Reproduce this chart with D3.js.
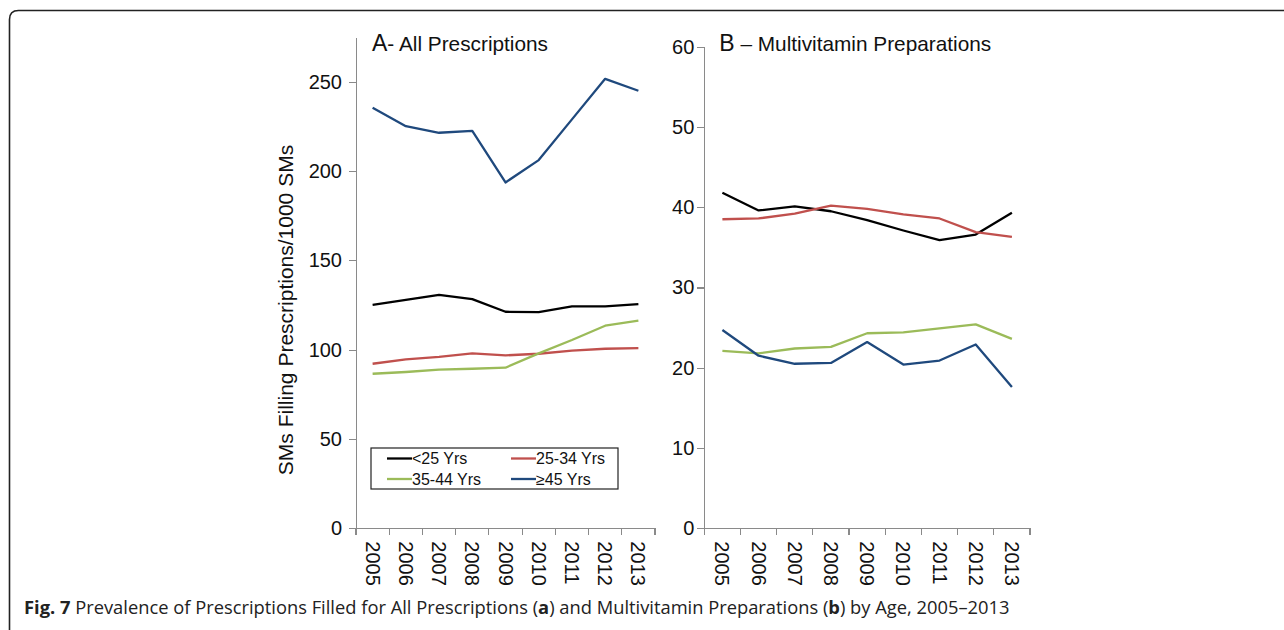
<!DOCTYPE html>
<html lang="en">
<head>
  <meta charset="UTF-8">
  <title>Fig. 7</title>
  <style type="text/css">
    body{
      margin: 0;
      background: #fff;
      font-family: "Liberation Sans", Arial, sans-serif;
    }
    .axis path,
    .axis line{
      fill: none;
      stroke: #8a8a8a;
      stroke-width: 1.2px;
      shape-rendering: crispEdges;
    }
    .axis text{
      font-family: "Liberation Sans", Arial, sans-serif;
      fill: #111;
    }
    .series{
      fill: none;
      stroke-width: 2.3px;
      stroke-linejoin: round;
    }
    .legend text{
      font-size: 16px;
      fill: #111;
    }
    .caption{
      font-family: "Open Sans", sans-serif;
      fill: #222;
    }
  </style>
  <script type="text/javascript" src="https://cdn.jsdelivr.net/npm/d3@7"></script>
</head>
<body>
<script type="text/javascript">
  var years = ['2005', '2006', '2007', '2008', '2009', '2010', '2011', '2012', '2013'];
  var seriesNames = ['<25 Yrs', '25-34 Yrs', '35-44 Yrs', '\u226545 Yrs'];
  var seriesColors = ['#000000', '#c0504d', '#9bbb59', '#1f497d'];

  // A - all prescriptions, per 1000 SMs
  var allUnder25 = [125.1, 127.8, 130.6, 128.3, 121.2, 121.0, 124.2, 124.2, 125.5];
  var all25to34  = [92.1, 94.6, 95.9, 97.9, 96.8, 97.7, 99.4, 100.5, 100.9];
  var all35to44  = [86.5, 87.5, 88.8, 89.3, 89.9, 97.9, 105.4, 113.4, 116.2];
  var all45plus  = [235.4, 225.1, 221.4, 222.5, 193.6, 206.1, 228.9, 251.6, 244.9];
  var allTicks = [0, 50, 100, 150, 200, 250];

  // B - multivitamin preparations
  var vitUnder25 = [41.8, 39.6, 40.1, 39.5, 38.4, 37.1, 35.9, 36.6, 39.3];
  var vit25to34  = [38.5, 38.6, 39.2, 40.2, 39.8, 39.1, 38.6, 36.9, 36.3];
  var vit35to44  = [22.1, 21.8, 22.4, 22.6, 24.3, 24.4, 24.9, 25.4, 23.6];
  var vit45plus  = [24.7, 21.5, 20.5, 20.6, 23.2, 20.4, 20.9, 22.9, 17.6];
  var vitTicks = [0, 10, 20, 30, 40, 50, 60];

  var W = 1284, H = 630;

  var svg = d3.select('body')
    .append('svg')
    .attr('width', W)
    .attr('height', H);

  // frame (rounded top-left corner, open to the right and bottom)
  svg.append('path')
    .attr('d', 'M9.5,' + H + ' L9.5,19.5 Q9.5,10.5 18.5,10.5 L' + W + ',10.5')
    .attr('fill', 'none')
    .attr('stroke', '#222')
    .attr('stroke-width', 1.6);

  function drawPanel(p){
    var x = d3.scaleBand()
      .domain(years)
      .range([p.left, p.right]);

    var y = d3.scaleLinear()
      .domain([0, p.max])
      .range([528.3, p.top]);

    var g = svg.append('g');

    // y axis
    var yAxis = d3.axisLeft(y)
      .tickValues(p.ticks)
      .tickSize(7)
      .tickSizeOuter(0)
      .tickPadding(p.pad);

    g.append('g')
      .attr('class', 'y axis')
      .attr('transform', 'translate(' + p.left + ',0)')
      .call(yAxis)
      .selectAll('text')
      .style('font-size', '20px');

    // x axis, labels at band centres, ticks at band edges
    var xAxis = d3.axisBottom(x)
      .tickSize(0)
      .tickSizeOuter(0)
      .tickPadding(0);

    var xg = g.append('g')
      .attr('class', 'x axis')
      .attr('transform', 'translate(0,' + y(0) + ')')
      .call(xAxis);

    xg.selectAll('.tick text')
      .attr('transform', 'rotate(90)')
      .attr('x', 13)
      .attr('y', 0)
      .attr('dy', '0.35em')
      .style('text-anchor', 'start')
      .style('font-size', '20px');

    xg.selectAll('.edge')
      .data(d3.range(years.length + 1))
      .enter().append('line')
      .attr('class', 'edge')
      .attr('x1', function(i){ return x.range()[0] + i * x.step(); })
      .attr('x2', function(i){ return x.range()[0] + i * x.step(); })
      .attr('y1', 0)
      .attr('y2', 7);

    var line = d3.line()
      .x(function(d, i){ return x(years[i]) + x.bandwidth() / 2; })
      .y(function(d){ return y(d); });

    g.selectAll('.series')
      .data(p.series)
      .enter().append('path')
      .attr('class', 'series')
      .attr('d', function(d){ return line(d); })
      .style('stroke', function(d, i){ return seriesColors[i]; });

    // panel title
    var t = g.append('text')
      .attr('x', x.range()[0] + p.titleDx)
      .attr('y', 50.5)
      .style('fill', '#111');
    t.append('tspan').style('font-size', '23px').text(p.letter);
    t.append('tspan').style('font-size', '20.8px').text(p.title);

    return {x: x, y: y};
  }

  drawPanel({
    left: 356, right: 655, top: 37, max: 275, pad: 7,
    ticks: allTicks,
    series: [allUnder25, all25to34, all35to44, all45plus],
    letter: 'A', title: '- All Prescriptions', titleDx: 16
  });

  drawPanel({
    left: 704.3, right: 1030, top: 46.7, max: 60, pad: 3,
    ticks: vitTicks,
    series: [vitUnder25, vit25to34, vit35to44, vit45plus],
    letter: 'B', title: ' \u2013 Multivitamin Preparations', titleDx: 15
  });

  // y axis title
  svg.append('text')
    .attr('transform', 'translate(293,310) rotate(-90)')
    .attr('text-anchor', 'middle')
    .style('font-size', '21px')
    .style('fill', '#111')
    .text('SMs Filling Prescriptions/1000 SMs');

  // legend in panel A
  var legend = svg.append('g').attr('class', 'legend');

  legend.append('rect')
    .attr('x', 371)
    .attr('y', 448)
    .attr('width', 247)
    .attr('height', 41)
    .attr('fill', '#fff')
    .attr('stroke', '#222')
    .attr('stroke-width', 1.2);

  var item = legend.selectAll('.item')
    .data(seriesNames)
    .enter().append('g')
    .attr('class', 'item')
    .attr('transform', function(d, i){
      return 'translate(' + (387 + (i % 2) * 124) + ',' + (458.5 + Math.floor(i / 2) * 20.5) + ')';
    });

  item.append('line')
    .attr('x1', 0)
    .attr('x2', 25)
    .attr('stroke-width', 2.3)
    .attr('stroke', function(d, i){ return seriesColors[i]; });

  item.append('text')
    .attr('x', 25)
    .attr('dy', '0.36em')
    .text(function(d){ return d; });

  // caption
  var cap = svg.append('text')
    .attr('class', 'caption')
    .attr('x', 24)
    .attr('y', 614)
    .style('font-size', '16px');
  cap.append('tspan').style('font-weight', 'bold').text('Fig. 7');
  cap.append('tspan').text(' Prevalence of Prescriptions Filled for All Prescriptions (');
  cap.append('tspan').style('font-weight', 'bold').text('a');
  cap.append('tspan').text(') and Multivitamin Preparations (');
  cap.append('tspan').style('font-weight', 'bold').text('b');
  cap.append('tspan').text(') by Age, 2005\u20132013');

  // squeeze caption to the width it has in the figure
  var capW = cap.node().getComputedTextLength();
  cap.style('font-size', (16 * 986 / capW) + 'px');
</script>
</body>
</html>
